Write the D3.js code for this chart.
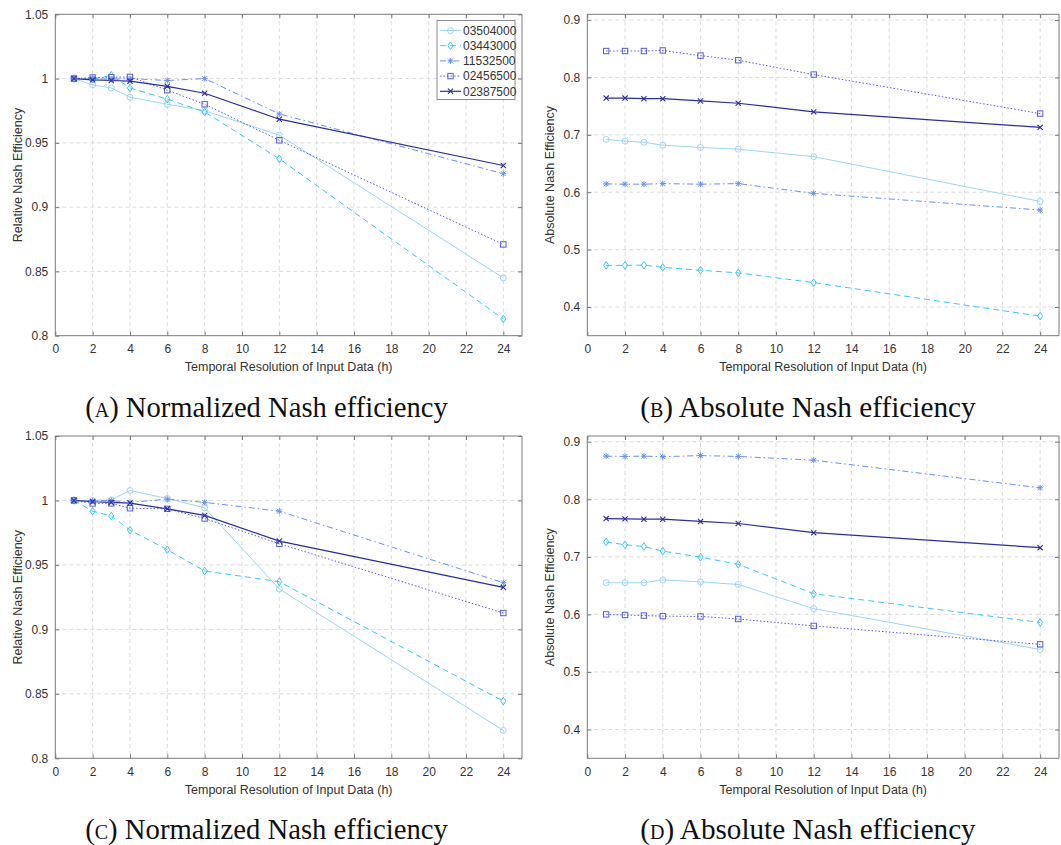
<!DOCTYPE html>
<html><head><meta charset="utf-8">
<script src="https://cdn.jsdelivr.net/npm/d3@7"></script>
<style>body{margin:0;background:#fff}svg{display:block}</style>
</head><body>
<svg id="c" width="1061" height="845"></svg>
<script>
// ---- data ----
const hours = [1, 2, 3, 4, 6, 8, 12, 24];
const stations = ["03504000", "03443000", "11532500", "02456500", "02387500"];
const xTicks = [0, 2, 4, 6, 8, 10, 12, 14, 16, 18, 20, 22, 24];
const relTicks = [0.8, 0.85, 0.9, 0.95, 1, 1.05];
const absTicks = [0.4, 0.5, 0.6, 0.7, 0.8, 0.9];
const captions = ["Normalized Nash efficiency", "Absolute Nash efficiency", "Normalized Nash efficiency", "Absolute Nash efficiency"];
const captionLetters = ["a", "b", "c", "d"];

// (A) relative Nash efficiency
const relA_03504000 = [1.000, 0.995, 0.9927, 0.9855, 0.980, 0.975, 0.956, 0.845];
const relA_03443000 = [1.000, 0.9995, 1.0026, 0.9927, 0.984, 0.974, 0.9376, 0.813];
const relA_11532500 = [1.000, 1.000, 0.9995, 1.000, 0.9985, 1.000, 0.9725, 0.926];
const relA_02456500 = [1.000, 1.0008, 1.001, 1.0013, 0.991, 0.980, 0.952, 0.871];
const relA_02387500 = [1.000, 0.999, 0.9985, 0.998, 0.994, 0.9886, 0.9684, 0.9324];
// (B) absolute Nash efficiency
const absB_03504000 = [0.692, 0.689, 0.687, 0.682, 0.678, 0.675, 0.662, 0.584];
const absB_03443000 = [0.4725, 0.4725, 0.473, 0.469, 0.464, 0.4595, 0.4425, 0.384];
const absB_11532500 = [0.6145, 0.614, 0.614, 0.615, 0.614, 0.615, 0.598, 0.569];
const absB_02456500 = [0.846, 0.846, 0.846, 0.847, 0.838, 0.830, 0.805, 0.737];
const absB_02387500 = [0.764, 0.764, 0.763, 0.763, 0.759, 0.755, 0.740, 0.713];
// (C) relative Nash efficiency
const relC_03504000 = [1.000, 1.000, 1.0005, 1.0077, 1.0015, 0.9943, 0.9313, 0.8216];
const relC_03443000 = [1.000, 0.9917, 0.9879, 0.977, 0.9618, 0.9453, 0.937, 0.8443];
const relC_11532500 = [1.000, 0.9997, 1.000, 0.9985, 1.001, 0.9985, 0.9917, 0.9362];
const relC_02456500 = [1.000, 0.9977, 0.9977, 0.994, 0.9935, 0.986, 0.9664, 0.9127];
const relC_02387500 = [1.000, 0.999, 0.9985, 0.998, 0.9935, 0.9884, 0.9685, 0.9326];
// (D) absolute Nash efficiency
const absD_03504000 = [0.655, 0.655, 0.655, 0.660, 0.6565, 0.652, 0.610, 0.539];
const absD_03443000 = [0.726, 0.721, 0.718, 0.710, 0.6995, 0.687, 0.636, 0.586];
const absD_11532500 = [0.875, 0.8745, 0.875, 0.874, 0.876, 0.8745, 0.868, 0.820];
const absD_02456500 = [0.600, 0.599, 0.598, 0.597, 0.5965, 0.592, 0.580, 0.548];
const absD_02387500 = [0.7665, 0.766, 0.7655, 0.7655, 0.7615, 0.758, 0.742, 0.716];

// ---- styles ----
const colors = ["#9fd6ee", "#3cc8f4", "#6a8fee", "#5a5adf", "#2c2c9c"];
const dashes = [null, "6,4", "6,3,1.5,3", "1.5,2", null];
const markerTypes = ["circle", "diamond", "asterisk", "square", "cross"];

const panels = [
  {series: [relA_03504000, relA_03443000, relA_11532500, relA_02456500, relA_02387500], yDomain: [0.8, 1.05], yTicks: relTicks, ylabel: "Relative Nash Efficiency",
   box: {l: 55.3, r: 522, t: 14.3, b: 335.7}, legend: true, capX: 266.5, capW: 363},
  {series: [absB_03504000, absB_03443000, absB_11532500, absB_02456500, absB_02387500], yDomain: [0.35, 0.91], yTicks: absTicks, ylabel: "Absolute Nash Efficiency",
   box: {l: 587.3, r: 1059, t: 14.3, b: 335.7}, capX: 808, capW: 336},
  {series: [relC_03504000, relC_03443000, relC_11532500, relC_02456500, relC_02387500], yDomain: [0.8, 1.05], yTicks: relTicks, ylabel: "Relative Nash Efficiency",
   box: {l: 55.3, r: 522, t: 436, b: 758.3}, capX: 266.5, capW: 363},
  {series: [absD_03504000, absD_03443000, absD_11532500, absD_02456500, absD_02387500], yDomain: [0.35, 0.91], yTicks: absTicks, ylabel: "Absolute Nash Efficiency",
   box: {l: 587.3, r: 1059, t: 436, b: 758.3}, capX: 808, capW: 336}
];

const svg = d3.select("#c");
const sansFont = "'Liberation Sans', Arial, Helvetica, sans-serif";
const axisColor = "#7a7a7a";
const textColor = "#333";

function drawMarker(g, type, x, y, color) {
  const s = 3;
  if (type === "circle") {
    g.append("circle").attr("cx", x).attr("cy", y).attr("r", s).attr("fill", "none").attr("stroke", color).attr("stroke-width", 1);
  } else if (type === "diamond") {
    g.append("path").attr("d", `M${x},${y - 3.8}L${x + 2.6},${y}L${x},${y + 3.8}L${x - 2.6},${y}Z`).attr("fill", "none").attr("stroke", color).attr("stroke-width", 1);
  } else if (type === "square") {
    g.append("rect").attr("x", x - 2.7).attr("y", y - 2.7).attr("width", 5.4).attr("height", 5.4).attr("fill", "none").attr("stroke", color).attr("stroke-width", 1);
  } else if (type === "asterisk") {
    const d = 2.4;
    g.append("path").attr("d", `M${x - 3},${y}H${x + 3}M${x},${y - 3}V${y + 3}M${x - d},${y - d}L${x + d},${y + d}M${x - d},${y + d}L${x + d},${y - d}`).attr("stroke", color).attr("stroke-width", 1).attr("fill", "none");
  } else if (type === "cross") {
    const d = 2.6;
    g.append("path").attr("d", `M${x - d},${y - d}L${x + d},${y + d}M${x - d},${y + d}L${x + d},${y - d}`).attr("stroke", color).attr("stroke-width", 1.1).attr("fill", "none");
  }
}

const capNodes = [];
panels.forEach((p, pi) => {
  const {l, r, t, b} = p.box;
  const x = d3.scaleLinear().domain([0, 25]).range([l, r]);
  const y = d3.scaleLinear().domain(p.yDomain).range([b, t]);
  const g = svg.append("g");

  // grid
  const grid = g.append("g").attr("stroke", "#dcdcdc").attr("stroke-width", 1).attr("stroke-dasharray", "4,3");
  xTicks.forEach(v => { if (v > 0) grid.append("line").attr("x1", x(v)).attr("x2", x(v)).attr("y1", t).attr("y2", b); });
  p.yTicks.forEach(v => { if (Math.abs(y(v) - t) > 1 && Math.abs(y(v) - b) > 1) grid.append("line").attr("x1", l).attr("x2", r).attr("y1", y(v)).attr("y2", y(v)); });

  // axes with d3
  const xAxisB = g.append("g").attr("transform", `translate(0,${b})`)
    .call(d3.axisBottom(x).tickValues(xTicks).tickSize(-4).tickPadding(9).tickFormat(d3.format("d")));
  const xAxisT = g.append("g").attr("transform", `translate(0,${t})`)
    .call(d3.axisTop(x).tickValues(xTicks).tickSize(-4).tickFormat(""));
  const yAxisL = g.append("g").attr("transform", `translate(${l},0)`)
    .call(d3.axisLeft(y).tickValues(p.yTicks).tickSize(-4).tickPadding(7).tickFormat(d => String(+d.toFixed(2))));
  const yAxisR = g.append("g").attr("transform", `translate(${r},0)`)
    .call(d3.axisRight(y).tickValues(p.yTicks).tickSize(-4).tickFormat(""));
  [xAxisB, xAxisT, yAxisL, yAxisR].forEach(a => {
    a.select(".domain").attr("stroke", axisColor);
    a.selectAll(".tick line").attr("stroke", axisColor);
    a.selectAll("text").attr("fill", textColor).style("font-family", sansFont).style("font-size", "12px");
  });
  xAxisB.select(".domain").attr("d", `M${l},0H${r}`);
  xAxisT.select(".domain").attr("d", `M${l},0H${r}`);
  yAxisL.select(".domain").attr("d", `M0,${b}V${t}`);
  yAxisR.select(".domain").attr("d", `M0,${b}V${t}`);

  // labels
  g.append("text").attr("x", (l + r) / 2).attr("y", b + 35.5).attr("text-anchor", "middle")
    .style("font-family", sansFont).style("font-size", "12.5px").attr("fill", textColor)
    .text("Temporal Resolution of Input Data (h)");
  g.append("text").attr("transform", `translate(${l - 33},${(t + b) / 2}) rotate(-90)`).attr("text-anchor", "middle")
    .style("font-family", sansFont).style("font-size", "12.5px").attr("fill", textColor)
    .text(p.ylabel);

  // series
  const line = d3.line().x((d, i) => x(hours[i])).y(d => y(d));
  p.series.forEach((s, si) => {
    g.append("path").datum(s).attr("d", line).attr("fill", "none").attr("stroke", colors[si])
      .attr("stroke-width", si === 4 ? 1.2 : 1).attr("stroke-dasharray", dashes[si]);
  });
  p.series.forEach((s, si) => {
    const mg = g.append("g");
    s.forEach((v, i) => drawMarker(mg, markerTypes[si], x(hours[i]), y(v), colors[si]));
  });

  // legend
  if (p.legend) {
    const lx = 437, ly = 20.5, lw = 78, lh = 79;
    const lg = g.append("g");
    lg.append("rect").attr("x", lx).attr("y", ly).attr("width", lw).attr("height", lh).attr("fill", "#fff").attr("stroke", "#8a8a8a").attr("stroke-width", 1);
    stations.forEach((name, si) => {
      const yy = ly + 10 + si * 15.2;
      lg.append("line").attr("x1", lx + 3).attr("x2", lx + 24).attr("y1", yy).attr("y2", yy)
        .attr("stroke", colors[si]).attr("stroke-width", si === 4 ? 1.2 : 1).attr("stroke-dasharray", dashes[si]);
      drawMarker(lg, markerTypes[si], lx + 13.5, yy, colors[si]);
      lg.append("text").attr("x", lx + 26).attr("y", yy + 4.3).style("font-family", sansFont).style("font-size", "12px")
        .attr("fill", textColor).text(name);
    });
  }

  // caption
  const cap = svg.append("text").attr("x", p.capX).attr("y", b + 81).attr("text-anchor", "middle")
    .style("font-family", "'Palatino Linotype', Palatino, 'URW Palladio L', 'Liberation Serif', serif")
    .style("font-size", "24px").attr("fill", "#111");
  cap.append("tspan").text("(");
  cap.append("tspan").style("font-variant", "small-caps").text(captionLetters[pi]);
  cap.append("tspan").text(") " + captions[pi]);
  capNodes.push({node: cap.node(), target: p.capW});
});

// fit caption widths to the reference proportions
capNodes.forEach(c => {
  const w = c.node.getComputedTextLength();
  d3.select(c.node).style("font-size", (24 * c.target / w).toFixed(2) + "px");
});
</script>
</body></html>
